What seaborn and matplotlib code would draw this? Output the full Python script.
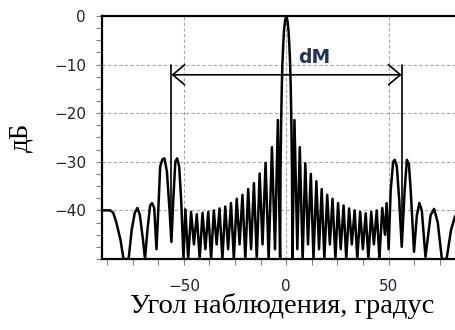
import matplotlib
matplotlib.use('Agg')
import matplotlib.pyplot as plt
from matplotlib.ticker import MultipleLocator
import seaborn as sns
import pandas as pd

# ---- data (vertices of the pattern curve) ----
angle_deg = [
    -90.0, -86.0, -84.5, -83.0, -81.0, -79.5, -77.0, -75.5, -74.0, -72.7,
    -71.5, -70.0, -69.0, -67.8, -66.5, -65.5, -64.5, -63.4, -62.3, -61.6,
    -60.5, -59.5, -58.3, -57.0, -56.1, -55.2, -54.2, -53.3, -52.3, -51.3,
    -50.2, -49.3, -47.9, -46.5, -45.1, -43.7, -42.3, -40.9, -39.5, -38.1,
    -36.7, -35.4, -34.0, -32.6, -31.2, -29.8, -28.4, -27.0, -25.6, -24.2,
    -22.8, -21.4, -20.0, -18.6, -17.2, -15.8, -14.4, -13.0, -11.6, -10.1,
    -8.6, -7.0, -5.5, -4.1, -3.0, -2.8, -2.5, -2.2, -1.9, -1.5,
    -1.1, -0.6, 0.0, 0.6, 1.1, 1.5, 1.9, 2.2, 2.5, 2.8,
    3.0, 4.0, 5.4, 6.6, 8.0, 9.3, 10.6, 12.0, 13.3, 14.7,
    16.0, 17.3, 18.6, 20.0, 21.3, 22.6, 24.0, 25.3, 26.6, 28.0,
    29.3, 30.7, 32.0, 33.4, 34.7, 36.1, 37.4, 38.8, 40.1, 41.5,
    42.8, 44.2, 45.5, 46.9, 48.2, 49.0, 50.0, 51.0, 52.2, 53.0,
    54.0, 55.2, 56.4, 57.8, 58.9, 59.9, 60.8, 62.4, 63.8, 65.0,
    66.2, 68.0, 70.5, 72.2, 74.0, 76.0, 78.3, 80.5, 82.4, 84.5,
    90.0,
]
level_db = [
    -40.0, -40.0, -40.5, -42.5, -46.0, -50.0, -50.0, -44.0, -40.5, -39.5,
    -41.0, -46.0, -50.0, -44.0, -39.0, -38.5, -39.5, -48.0, -38.0, -31.0,
    -29.5, -29.3, -32.0, -40.0, -46.5, -38.0, -30.0, -29.3, -31.0, -38.2,
    -50.0, -39.8, -50.0, -40.3, -47.0, -40.8, -50.0, -40.5, -48.0, -40.3,
    -50.0, -40.0, -47.0, -39.6, -50.0, -39.2, -48.0, -38.5, -50.0, -37.6,
    -47.0, -36.8, -50.0, -35.6, -48.0, -34.4, -50.0, -32.4, -47.0, -30.2,
    -50.0, -27.0, -48.0, -21.4, -50.0, -32.0, -22.0, -15.0, -10.0, -6.0,
    -3.0, -1.0, 0.0, -1.0, -3.0, -6.0, -10.0, -15.0, -22.0, -32.0,
    -50.0, -21.4, -48.0, -27.0, -50.0, -30.3, -47.0, -32.5, -50.0, -34.0,
    -48.0, -35.6, -50.0, -36.8, -47.0, -37.6, -50.0, -38.5, -48.0, -39.0,
    -50.0, -39.6, -47.0, -40.0, -50.0, -40.3, -48.0, -40.6, -50.0, -40.3,
    -47.0, -40.0, -50.0, -39.5, -45.0, -38.5, -48.0, -36.0, -30.0, -29.6,
    -31.0, -38.0, -47.5, -36.0, -29.6, -30.5, -36.0, -48.5, -41.0, -38.5,
    -40.0, -49.6, -41.0, -39.7, -42.5, -50.0, -50.0, -44.0, -41.3, -40.0,
    -40.0,
]

x_ticks = [-50, 0, 50]
y_ticks = [0, -10, -20, -30, -40]

dm_left = -56.1
dm_right = 56.4
dm_level = -12.1
dm_top = -10.0
dm_bottom = -46.0
dm_label = 'dM'
dm_label_x = 13.7
dm_label_y = -8.6

x_label = 'Угол наблюдения, градус'
y_label = 'дБ'

# ---- style ----
sns.set_theme(style='white')
plt.rcParams['font.family'] = ['DejaVu Sans']
plt.rcParams['axes.unicode_minus'] = True

fig = plt.figure(figsize=(4.55, 3.30), dpi=100)
fig.patch.set_facecolor('white')
ax = fig.add_axes([0.2242, 0.2152, 0.8099, 0.7364])
ax.set_facecolor('white')

df = pd.DataFrame({'angle': angle_deg, 'level': level_db})
sns.lineplot(data=df, x='angle', y='level', ax=ax, color='black',
             linewidth=1.8, estimator=None, sort=False, zorder=3)

ax.set_xlim(-90, 90)
ax.set_ylim(-50, 0)
ax.set_xticks(x_ticks)
ax.set_yticks(y_ticks)
ax.xaxis.set_minor_locator(MultipleLocator(12.5))
ax.yaxis.set_minor_locator(MultipleLocator(2.5))

ax.grid(True, which='major', linestyle=(0, (3, 2)), color='#a8a8a8', linewidth=0.8, zorder=0)

ax.tick_params(which='both', direction='out', bottom=True, left=True,
               length=4.5, width=0.8, color='#808080')
ax.tick_params(axis='both', which='major', labelsize=11, labelcolor='#222233')
ax.tick_params(axis='x', which='major', pad=10)
ax.tick_params(axis='y', which='major', pad=7)

for side in ['top', 'left', 'bottom', 'right']:
    ax.spines[side].set_color('black')
    ax.spines[side].set_linewidth(1.6)
    ax.spines[side].set_visible(True)

# annotation dM
ax.annotate('', xy=(dm_left, dm_level), xytext=(dm_right, dm_level),
            arrowprops=dict(arrowstyle='<->,head_length=0.86,head_width=0.72',
                            mutation_scale=10, lw=1.2, color='black',
                            shrinkA=0, shrinkB=0), zorder=4)
ax.plot([dm_left, dm_left], [dm_top, dm_bottom], color='black', lw=1.2, zorder=4)
ax.plot([dm_right, dm_right], [dm_top, dm_bottom], color='black', lw=1.2, zorder=4)
ax.text(dm_label_x, dm_label_y, dm_label, fontsize=13.5, fontweight='bold',
        color='#223355', ha='center', va='center', zorder=5)

ax.set_xlabel(x_label, family=['Liberation Serif'], fontsize=20.5, color='black')
ax.set_ylabel(y_label, family=['Liberation Serif'], fontsize=19.5, color='black')
ax.xaxis.set_label_coords(0.49, -0.142)
ax.yaxis.set_label_coords(-0.187, 0.5)

fig.savefig('out.png', dpi=100)
